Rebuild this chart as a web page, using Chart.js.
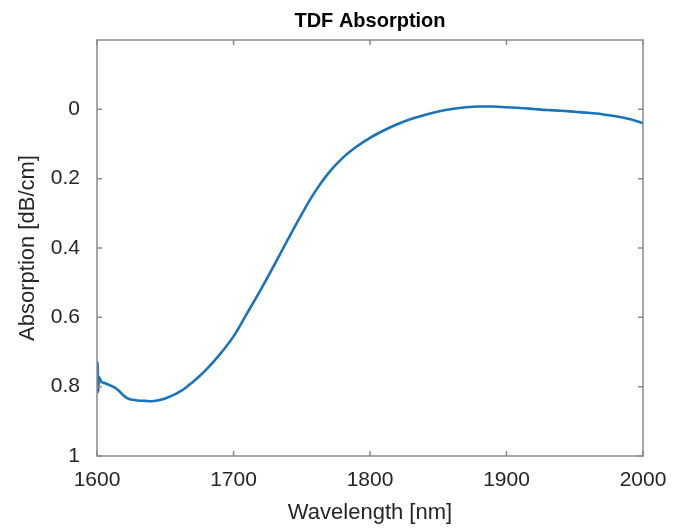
<!DOCTYPE html>
<html>
<head>
<meta charset="utf-8">
<title>TDF Absorption</title>
<script src="https://cdn.jsdelivr.net/npm/chart.js@4/dist/chart.umd.min.js"></script>
<style>
    html, body { margin: 0; padding: 0; background: #fff; }
    #wrap { width: 673px; height: 529px; position: relative; }
</style>
</head>
<body>
<div id="wrap"><canvas id="absChart"></canvas></div>
<script>
// Values
const wavelength = [1600, 1600.4, 1600.9, 1601.4, 1603, 1606, 1610, 1613, 1616, 1619, 1622, 1626, 1630,
    1635, 1640, 1645, 1650, 1655, 1660, 1665, 1670, 1675, 1680, 1690, 1700, 1710, 1720,
    1730, 1740, 1750, 1760, 1770, 1780, 1790, 1800, 1810, 1820, 1830, 1840, 1850, 1860, 1870, 1880,
    1890, 1900, 1910, 1920, 1930, 1940, 1950, 1960, 1970, 1980, 1990, 2000];
const absorption = [0.77, 0.73, 0.815, 0.772, 0.785, 0.79, 0.797, 0.803, 0.812, 0.824, 0.833, 0.838, 0.84,
    0.841, 0.842, 0.839, 0.834, 0.826, 0.816, 0.803, 0.787, 0.77, 0.751, 0.707, 0.655, 0.588, 0.52,
    0.448, 0.374, 0.302, 0.236, 0.182, 0.14, 0.108, 0.082, 0.061, 0.043, 0.028, 0.016, 0.006, -0.001, -0.006, -0.008,
    -0.008, -0.006, -0.004, -0.001, 0.002, 0.004, 0.007, 0.01, 0.014, 0.02, 0.028, 0.04];

const xTicks = [1600, 1700, 1800, 1900, 2000];
const yTicks = [0, 0.2, 0.4, 0.6, 0.8, 1];

const points = wavelength.map((w, i) => ({ x: w, y: absorption[i] }));

const fontFamily = '"Liberation Sans", Arial, Helvetica, sans-serif';
const textColor = '#262626';
const boxColor = '#8a8a8a';

// MATLAB-like box with inward tick marks on all four sides
const framePlugin = {
    id: 'frame',
    afterDraw(chart) {
        const { ctx, chartArea: a, scales: { x, y } } = chart;
        const len = 5;
        ctx.save();
        ctx.strokeStyle = boxColor;
        ctx.lineWidth = 1.5;
        ctx.strokeRect(a.left, a.top, a.right - a.left, a.bottom - a.top);
        ctx.beginPath();
        xTicks.forEach(v => {
            const px = x.getPixelForValue(v);
            ctx.moveTo(px, a.bottom); ctx.lineTo(px, a.bottom - len);
            ctx.moveTo(px, a.top); ctx.lineTo(px, a.top + len);
        });
        yTicks.forEach(v => {
            const py = y.getPixelForValue(v);
            ctx.moveTo(a.left, py); ctx.lineTo(a.left + len, py);
            ctx.moveTo(a.right, py); ctx.lineTo(a.right - len, py);
        });
        ctx.stroke();
        ctx.restore();
    }
};

new Chart(document.getElementById('absChart'), {
    type: 'line',
    data: {
        datasets: [{
            data: points,
            borderColor: '#1a74bb',
            borderWidth: 2.6,
            pointRadius: 0,
            cubicInterpolationMode: 'monotone',
            fill: false
        }]
    },
    options: {
        responsive: true,
        maintainAspectRatio: false,
        animation: false,
        layout: { padding: { left: 0, right: 30, top: 0, bottom: 0 } },
        plugins: {
            legend: { display: false },
            tooltip: { enabled: false },
            title: {
                display: true,
                text: 'TDF Absorption',
                fullSize: false,
                color: '#000',
                font: { family: fontFamily, size: 20, weight: 'bold' },
                padding: { top: 9, bottom: 7 }
            }
        },
        scales: {
            x: {
                type: 'linear',
                min: 1600,
                max: 2000,
                grid: { display: false },
                border: { display: false },
                afterBuildTicks: s => { s.ticks = xTicks.map(v => ({ value: v })); },
                afterFit: s => { s.height = 73; },
                ticks: {
                    color: textColor,
                    padding: 4,
                    maxRotation: 0,
                    font: { family: fontFamily, size: 21 },
                    callback: v => String(v)
                },
                title: {
                    display: true,
                    text: 'Wavelength [nm]',
                    color: textColor,
                    font: { family: fontFamily, size: 22 },
                    padding: { top: 0, bottom: 3 }
                }
            },
            y: {
                type: 'linear',
                reverse: true,
                min: -0.2,
                max: 1,
                grid: { display: false },
                border: { display: false },
                afterBuildTicks: s => { s.ticks = yTicks.map(v => ({ value: v })); },
                afterFit: s => { s.width = 97; },
                ticks: {
                    color: textColor,
                    padding: 9,
                    font: { family: fontFamily, size: 21 },
                    callback: v => String(Number(v.toFixed(1)))
                },
                title: {
                    display: true,
                    text: 'Absorption [dB/cm]',
                    color: textColor,
                    font: { family: fontFamily, size: 22 },
                    padding: { top: 15, bottom: 0 }
                }
            }
        }
    },
    plugins: [framePlugin]
});
</script>
</body>
</html>
